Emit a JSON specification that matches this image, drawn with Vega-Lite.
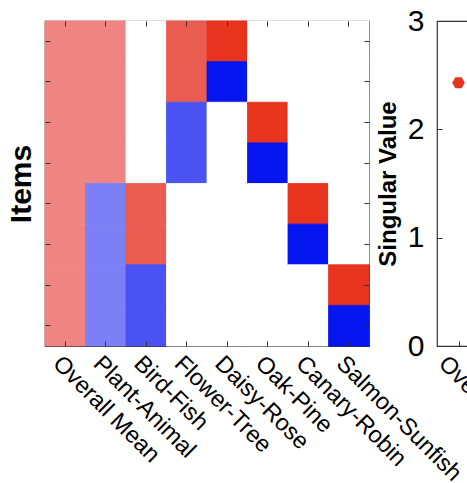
{
  "$schema": "https://vega.github.io/schema/vega-lite/v6.json",
  "background": "white",
  "padding": {"left": 5, "top": 5, "right": 0, "bottom": 0},
  "config": {
    "font": "Liberation Sans",
    "axis": {"labelColor": "black", "titleColor": "black", "tickColor": "#333", "domainColor": "#333", "grid": false}
  },
  "bounds": "flush",
  "spacing": 68,
  "datasets": {
    "cells": [
      {"col": "Overall Mean", "item": 1, "v": 0.35}, {"col": "Overall Mean", "item": 2, "v": 0.35}, {"col": "Overall Mean", "item": 3, "v": 0.35}, {"col": "Overall Mean", "item": 4, "v": 0.35},
      {"col": "Overall Mean", "item": 5, "v": 0.35}, {"col": "Overall Mean", "item": 6, "v": 0.35}, {"col": "Overall Mean", "item": 7, "v": 0.35}, {"col": "Overall Mean", "item": 8, "v": 0.35},
      {"col": "Plant-Animal", "item": 1, "v": 0.35}, {"col": "Plant-Animal", "item": 2, "v": 0.35}, {"col": "Plant-Animal", "item": 3, "v": 0.35}, {"col": "Plant-Animal", "item": 4, "v": 0.35},
      {"col": "Plant-Animal", "item": 5, "v": -0.35}, {"col": "Plant-Animal", "item": 6, "v": -0.35}, {"col": "Plant-Animal", "item": 7, "v": -0.35}, {"col": "Plant-Animal", "item": 8, "v": -0.35},
      {"col": "Bird-Fish", "item": 1, "v": 0}, {"col": "Bird-Fish", "item": 2, "v": 0}, {"col": "Bird-Fish", "item": 3, "v": 0}, {"col": "Bird-Fish", "item": 4, "v": 0},
      {"col": "Bird-Fish", "item": 5, "v": 0.5}, {"col": "Bird-Fish", "item": 6, "v": 0.5}, {"col": "Bird-Fish", "item": 7, "v": -0.5}, {"col": "Bird-Fish", "item": 8, "v": -0.5},
      {"col": "Flower-Tree", "item": 1, "v": 0.5}, {"col": "Flower-Tree", "item": 2, "v": 0.5}, {"col": "Flower-Tree", "item": 3, "v": -0.5}, {"col": "Flower-Tree", "item": 4, "v": -0.5},
      {"col": "Flower-Tree", "item": 5, "v": 0}, {"col": "Flower-Tree", "item": 6, "v": 0}, {"col": "Flower-Tree", "item": 7, "v": 0}, {"col": "Flower-Tree", "item": 8, "v": 0},
      {"col": "Daisy-Rose", "item": 1, "v": 0.71}, {"col": "Daisy-Rose", "item": 2, "v": -0.71}, {"col": "Daisy-Rose", "item": 3, "v": 0}, {"col": "Daisy-Rose", "item": 4, "v": 0},
      {"col": "Daisy-Rose", "item": 5, "v": 0}, {"col": "Daisy-Rose", "item": 6, "v": 0}, {"col": "Daisy-Rose", "item": 7, "v": 0}, {"col": "Daisy-Rose", "item": 8, "v": 0},
      {"col": "Oak-Pine", "item": 1, "v": 0}, {"col": "Oak-Pine", "item": 2, "v": 0}, {"col": "Oak-Pine", "item": 3, "v": 0.71}, {"col": "Oak-Pine", "item": 4, "v": -0.71},
      {"col": "Oak-Pine", "item": 5, "v": 0}, {"col": "Oak-Pine", "item": 6, "v": 0}, {"col": "Oak-Pine", "item": 7, "v": 0}, {"col": "Oak-Pine", "item": 8, "v": 0},
      {"col": "Canary-Robin", "item": 1, "v": 0}, {"col": "Canary-Robin", "item": 2, "v": 0}, {"col": "Canary-Robin", "item": 3, "v": 0}, {"col": "Canary-Robin", "item": 4, "v": 0},
      {"col": "Canary-Robin", "item": 5, "v": 0.71}, {"col": "Canary-Robin", "item": 6, "v": -0.71}, {"col": "Canary-Robin", "item": 7, "v": 0}, {"col": "Canary-Robin", "item": 8, "v": 0},
      {"col": "Salmon-Sunfish", "item": 1, "v": 0}, {"col": "Salmon-Sunfish", "item": 2, "v": 0}, {"col": "Salmon-Sunfish", "item": 3, "v": 0}, {"col": "Salmon-Sunfish", "item": 4, "v": 0},
      {"col": "Salmon-Sunfish", "item": 5, "v": 0}, {"col": "Salmon-Sunfish", "item": 6, "v": 0}, {"col": "Salmon-Sunfish", "item": 7, "v": 0.71}, {"col": "Salmon-Sunfish", "item": 8, "v": -0.71}
    ],
    "sv": [
      {"mode": "Overall Mean", "value": 2.43}
    ]
  },
  "hconcat": [
    {
      "width": 324,
      "height": 325,
      "view": {"stroke": "#333", "strokeWidth": 1.2},
      "data": {"name": "cells"},
      "layer": [
        {
          "mark": {"type": "rect", "strokeWidth": 0.8},
          "encoding": {
            "x": {"field": "col", "type": "nominal", "sort": ["Overall Mean", "Plant-Animal", "Bird-Fish", "Flower-Tree", "Daisy-Rose", "Oak-Pine", "Canary-Robin", "Salmon-Sunfish"],
              "scale": {"paddingInner": 0, "paddingOuter": 0},
              "axis": {"title": null, "labelAngle": 45, "labelFontSize": 23.5, "labelPadding": 10, "tickSize": -5, "domain": false, "labelAlign": "left", "labelBaseline": "top"}},
            "y": {"field": "item", "type": "ordinal",
              "scale": {"paddingInner": 0, "paddingOuter": 0},
              "axis": {"title": "Items", "titleFontSize": 30, "titleFontWeight": "bold", "labels": false, "tickSize": -5, "domain": false, "titlePadding": 8}},
            "fill": {"field": "v", "type": "nominal", "legend": null,
              "scale": {"domain": [-0.71, -0.5, -0.35, 0, 0.35, 0.5, 0.71],
                "range": ["#0515f0", "#4a52f2", "#7c80f5", "#ffffff", "#ef8582", "#ea5b52", "#e8331f"]}},
            "stroke": {"field": "v", "type": "nominal", "legend": null,
              "scale": {"domain": [-0.71, -0.5, -0.35, 0, 0.35, 0.5, 0.71],
                "range": ["#0515f0", "#4a52f2", "#7c80f5", "#ffffff", "#ef8582", "#ea5b52", "#e8331f"]}}
          }
        },
        {
          "mark": {"type": "rect", "opacity": 0},
          "encoding": {
            "x": {"field": "col", "type": "nominal", "sort": ["Overall Mean", "Plant-Animal", "Bird-Fish", "Flower-Tree", "Daisy-Rose", "Oak-Pine", "Canary-Robin", "Salmon-Sunfish"],
              "axis": {"orient": "top", "title": null, "labels": false, "tickSize": -5, "domain": false}},
            "y": {"field": "item", "type": "ordinal",
              "axis": {"orient": "right", "title": null, "labels": false, "tickSize": -5, "domain": false}}
          }
        }
      ],
      "resolve": {"axis": {"x": "independent", "y": "independent"}}
    },
    {
      "width": 344,
      "height": 325,
      "view": {"stroke": "#333", "strokeWidth": 1.2},
      "data": {"name": "sv"},
      "mark": {"type": "point", "shape": "M-1,0L-0.5,-0.866L0.5,-0.866L1,0L0.5,0.866L-0.5,0.866Z", "filled": true, "size": 160, "color": "#e8331f", "opacity": 1},
      "encoding": {
        "x": {"field": "mode", "type": "nominal",
          "scale": {"domain": ["Overall Mean", "Plant-Animal", "Bird-Fish", "Flower-Tree", "Daisy-Rose", "Oak-Pine", "Canary-Robin", "Salmon-Sunfish"]},
          "axis": {"title": null, "labelAngle": 45, "labelFontSize": 23.5, "labelPadding": 10, "labelOffset": -8, "tickSize": -5, "labelAlign": "left", "labelBaseline": "top", "domain": false}},
        "y": {"field": "value", "type": "quantitative",
          "scale": {"domain": [0, 3], "nice": false},
          "axis": {"title": "Singular Value", "titleFontSize": 24, "titleFontWeight": "bold", "values": [0, 1, 2, 3], "labelFontSize": 30, "tickSize": -5, "labelPadding": 18, "titlePadding": 7, "domain": false}}
      }
    }
  ]
}
